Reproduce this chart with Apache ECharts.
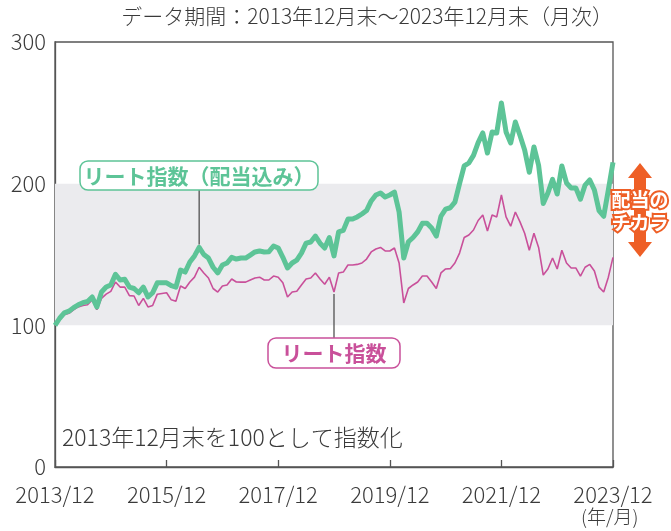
<!DOCTYPE html>
<html>
<head>
<meta charset="utf-8">
<script src="https://cdn.jsdelivr.net/npm/echarts@6.0.0/dist/echarts.min.js"></script>
<style>
  html, body { margin: 0; padding: 0; background: #fff; }
  #main { width: 671px; height: 531px; }
</style>
</head>
<body>
<div id="main"></div>
<script>
// 月次: 2013/12 〜 2023/12
const months = [];
for (let y = 2013, m = 12; y < 2024; ) {
  months.push(y + '/' + String(m).padStart(2, '0'));
  if (y === 2023 && m === 12) break;
  m++;
  if (m > 12) { m = 1; y++; }
}

// リート指数（配当込み）
const totalReturn = [
  100, 105, 108.8, 110, 112.5, 114.5, 116, 116.8, 120, 113,
  123.5, 127, 128.5, 136, 132, 132.5, 127, 126, 123, 127,
  120, 123, 130, 130, 130, 128, 127, 139, 137.6, 144.7,
  149, 155, 150, 147.5, 141, 137, 142.6, 144, 148, 146.8,
  147.5, 147.5, 149.6, 151.8, 152.5, 151.8, 152, 156, 154.6, 148,
  140.5, 144, 146, 151, 158, 158.8, 163, 158, 154.6, 162,
  149, 166, 167, 175, 175, 176.5, 178.6, 181, 187.8, 192,
  193.4, 190.6, 192, 194, 180, 147.5, 159, 162, 166, 172,
  172, 168.7, 163, 177, 182, 183, 187, 200, 212.5, 214.6,
  220, 229, 235.8, 221.6, 236.5, 235.8, 257, 236.5, 228.7, 243.5,
  234, 223.8, 208, 225.9, 213, 186, 193.4, 203, 192.7, 212.5,
  200.5, 197, 197, 189, 199, 202.6, 195.5, 181, 177, 195.5,
  215
];

// リート指数
const priceIndex = [
  100, 104, 107.5, 108.5, 111, 113, 114, 114.5, 118, 111,
  119, 122, 124, 130.6, 127, 127, 121, 120.7, 114, 119,
  113, 114, 122, 122.5, 123, 118, 117, 127.8, 126, 130.6,
  134, 141, 137, 133.4, 126, 123.5, 127.8, 128.5, 132.7, 130.6,
  130.5, 130.5, 132, 133.4, 134, 132, 132, 134.8, 134, 130,
  120, 123.5, 124, 128.5, 132.7, 133.4, 137, 132.7, 129, 134,
  123.5, 137, 137.6, 142.6, 142.6, 143, 144, 146.8, 151.8, 153.9,
  155, 152.5, 152.5, 154.6, 144, 115.8, 126, 128.5, 130.6, 134.8,
  134.8, 130.6, 126, 137, 139.8, 140, 144, 151, 162, 163.8,
  167.3, 174, 177.9, 166.6, 177.9, 176.5, 192, 176.5, 170, 180,
  173, 165, 153, 165, 155, 135.5, 139.8, 147.5, 139.8, 153,
  144, 140.5, 140.5, 134.8, 141, 143, 138.4, 127, 123.5, 134,
  148
];

const yTicks = [0, 100, 200, 300];
const band = [100, 200];

const FONT = "'Noto Sans CJK JP', 'Noto Sans', sans-serif";
const TEXT = '#3a3a3a';
const GREEN = '#5dc497';
const PINK = '#c9509a';
const ORANGE = '#ee5f26';

const chart = echarts.init(document.getElementById('main'), null, { renderer: 'canvas' });

const option = {
  backgroundColor: '#fff',
  animation: false,
  grid: {
    left: 55, right: 58, top: 42, bottom: 64,
    show: true,
    borderColor: '#555',
    borderWidth: 1.3,
    backgroundColor: 'transparent'
  },
  xAxis: {
    type: 'category',
    boundaryGap: false,
    data: months,
    axisLine: { lineStyle: { color: '#555', width: 1.3 } },
    axisTick: {
      show: true,
      inside: true,
      length: 7,
      interval: 23,
      lineStyle: { color: '#555', width: 1.3 }
    },
    axisLabel: {
      interval: 23,
      margin: 17,
      fontSize: 22,
      fontWeight: 300,
      fontFamily: FONT,
      color: TEXT
    },
    splitLine: { show: false }
  },
  yAxis: {
    type: 'value',
    min: yTicks[0],
    max: yTicks[yTicks.length - 1],
    interval: 100,
    axisLine: { show: true, lineStyle: { color: '#555', width: 1.3 } },
    axisTick: { show: false },
    axisLabel: {
      margin: 9,
      fontSize: 22,
      fontWeight: 300,
      fontFamily: FONT,
      color: TEXT
    },
    splitLine: { show: false }
  },
  series: [
    {
      name: 'リート指数',
      type: 'line',
      data: priceIndex,
      symbol: 'none',
      lineStyle: { color: PINK, width: 1.6 },
      z: 3,
      markArea: {
        silent: true,
        itemStyle: { color: '#ebebee' },
        data: [[{ yAxis: band[0] }, { yAxis: band[1] }]]
      }
    },
    {
      name: 'リート指数（配当込み）',
      type: 'line',
      data: totalReturn,
      symbol: 'none',
      lineStyle: { color: GREEN, width: 5, join: 'round' },
      z: 4
    }
  ]
};

chart.setOption(option);

// 引き出し線の位置はデータ点から計算
const gPt = chart.convertToPixel({ gridIndex: 0 }, [31, totalReturn[31]]);
const pPt = chart.convertToPixel({ gridIndex: 0 }, [60, priceIndex[60]]);

const arrowX = 640;
const arrowTop = 163;
const arrowBot = 257;

chart.setOption({
  graphic: [
    {
      type: 'text',
      right: 58,
      top: 6,
      style: {
        text: 'データ期間：2013年12月末～2023年12月末（月次）',
        font: '300 21px ' + FONT,
        fill: TEXT
      }
    },
    {
      type: 'text',
      left: 62,
      top: 426,
      style: {
        text: '2013年12月末を100として指数化',
        font: '300 23px ' + FONT,
        fill: TEXT
      }
    },
    {
      type: 'text',
      left: 581,
      top: 507,
      style: {
        text: '(年/月)',
        font: '300 19px ' + FONT,
        fill: TEXT
      }
    },
    // 引き出し線
    {
      type: 'line',
      z: 10,
      shape: { x1: gPt[0], y1: 190, x2: gPt[0], y2: gPt[1] - 3 },
      style: { stroke: '#444', lineWidth: 1.2 }
    },
    {
      type: 'line',
      z: 10,
      shape: { x1: pPt[0], y1: pPt[1] + 2, x2: pPt[0], y2: 338 },
      style: { stroke: '#444', lineWidth: 1.2 }
    },
    // ラベル
    {
      type: 'rect',
      z: 10,
      shape: { x: 80, y: 161, width: 238, height: 29, r: 8 },
      style: { fill: '#fff', stroke: GREEN, lineWidth: 1.5 }
    },
    {
      type: 'text',
      z: 11,
      x: 199,
      y: 176,
      style: {
        text: 'リート指数（配当込み）',
        font: 'bold 21px ' + FONT,
        fill: GREEN,
        align: 'center',
        verticalAlign: 'middle'
      }
    },
    {
      type: 'rect',
      z: 10,
      shape: { x: 268, y: 338, width: 132, height: 30, r: 8 },
      style: { fill: '#fff', stroke: PINK, lineWidth: 1.5 }
    },
    {
      type: 'text',
      z: 11,
      x: 334,
      y: 353,
      style: {
        text: 'リート指数',
        font: 'bold 21px ' + FONT,
        fill: PINK,
        align: 'center',
        verticalAlign: 'middle'
      }
    },
    // 配当のチカラ 矢印
    {
      type: 'polygon',
      z: 10,
      shape: {
        points: [
          [arrowX, arrowTop],
          [arrowX + 12, arrowTop + 15],
          [arrowX + 6, arrowTop + 15],
          [arrowX + 6, arrowBot - 15],
          [arrowX + 12, arrowBot - 15],
          [arrowX, arrowBot],
          [arrowX - 12, arrowBot - 15],
          [arrowX - 6, arrowBot - 15],
          [arrowX - 6, arrowTop + 15],
          [arrowX - 12, arrowTop + 15]
        ]
      },
      style: { fill: ORANGE }
    },
    {
      type: 'text',
      z: 11,
      x: arrowX,
      y: 211,
      style: {
        text: '配当の\nチカラ',
        font: 'bold 19px ' + FONT,
        lineHeight: 23,
        fill: '#fff',
        stroke: ORANGE,
        lineWidth: 4,
        align: 'center',
        verticalAlign: 'middle'
      }
    }
  ]
});
</script>
</body>
</html>
